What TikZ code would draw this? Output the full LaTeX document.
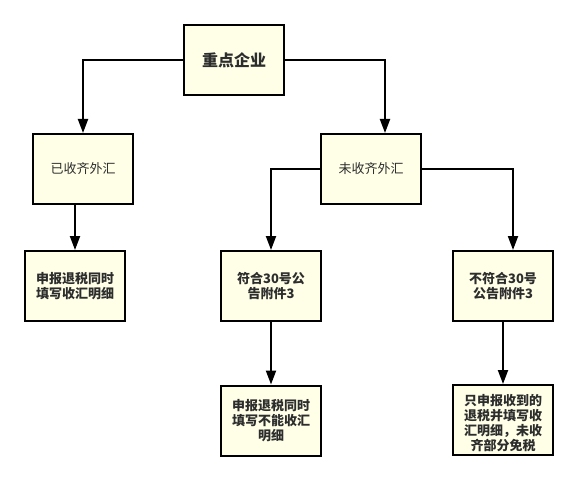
\documentclass[tikz,border=0pt]{standalone}
\usepackage{fontspec}
\setmainfont{Noto Sans CJK SC}
\usepackage{tikz}
\usetikzlibrary{arrows.meta}

\definecolor{boxfill}{RGB}{255,255,232}
\definecolor{boxtext}{RGB}{45,45,45}

\begin{document}
\begin{tikzpicture}[x=1pt,y=-1pt,
    box/.style={rectangle,draw=black,line width=2pt,fill=boxfill,text=boxtext,
      minimum width=100pt,minimum height=70pt,align=center,inner sep=2pt,
      font=\fontsize{13}{15}\selectfont},
    bbox/.style={box,font=\fontsize{13}{15}\selectfont\bfseries},
    link/.style={-{Triangle[length=14pt,width=10pt]},line width=2pt}]
    \useasboundingbox (0,0) rectangle (578,481);
    \node (top) at (234,60) [box,font=\fontsize{16}{18}\selectfont\bfseries] {重点企业};
    \node (yi) at (83,169) [box] {已收齐外汇};
    \node (wei) at (371,169) [box] {未收齐外汇};
    \node (l1) at (75,286) [bbox] {申报退税同时\\填写收汇明细};
    \node (m1) at (271,286) [bbox] {符合30号公\\告附件3};
    \node (r1) at (503,286) [bbox] {不符合30号\\公告附件3};
    \node (m2) at (271,420.5) [bbox] {申报退税同时\\填写不能收汇\\明细};
    \node (r2) at (503,420) [bbox] {};
    % text runs down onto the lower edge
    \node (r2text) at (503,423) [align=center,text=boxtext,inner sep=0pt,
      font=\fontsize{13}{15}\selectfont\bfseries] {只申报收到的\\退税并填写收\\汇明细，未收\\齐部分免税};
    \draw[link] (top.west) -| (yi.north);
    \draw[link] (top.east) -| ([xshift=14pt]wei.north);
    \draw[link] (l1.north |- yi.south) -- (l1.north);
    \draw[link] (wei.west) -| (m1.north);
    \draw[link] (wei.east) -| ([xshift=10pt]r1.north);
    \draw[link] (m1.south) -- (m2.north);
    \draw[link] (r1.south) -- (r2.north);
  \end{tikzpicture}
\end{document}
